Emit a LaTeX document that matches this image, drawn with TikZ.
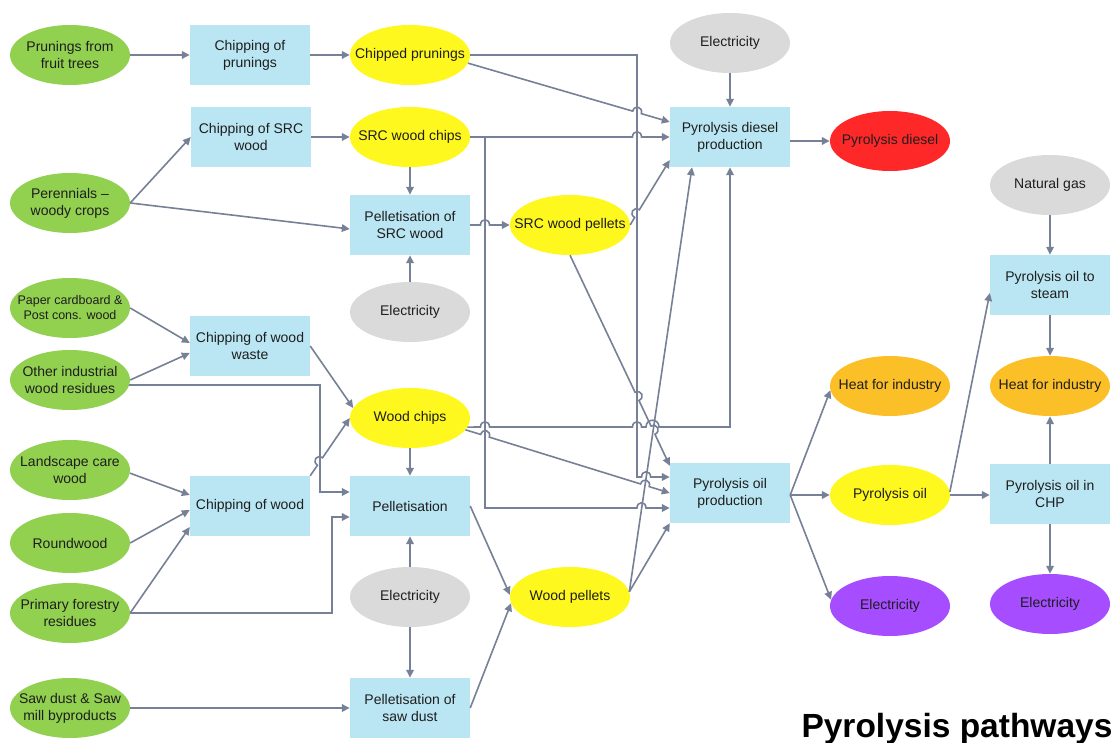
\documentclass[tikz,border=0pt]{standalone}
\usepackage{fontspec}
\setmainfont{Liberation Sans}
\usetikzlibrary{arrows.meta,shapes.geometric}
\definecolor{cgreen}{RGB}{146,208,80}
\definecolor{cblue}{RGB}{186,230,243}
\definecolor{cyellow}{RGB}{255,248,30}
\definecolor{cgray}{RGB}{218,218,218}
\definecolor{cred}{RGB}{255,40,40}
\definecolor{corange}{RGB}{251,192,40}
\definecolor{cpurple}{RGB}{166,77,255}
\definecolor{cline}{RGB}{118,128,150}
\definecolor{ctext}{RGB}{30,30,30}
\newcommand\nodefont{\fontsize{14}{17}\selectfont}
\newcommand\smallnodefont{\fontsize{12.5}{15}\selectfont}
\newcommand\titlefont{\bfseries\fontsize{33.5}{38}\selectfont}
% horizontal hop (rightward) at (#1,#2)
\newcommand\hr[2]{-- (#1-4.5,#2) .. controls (#1-4.5,#2-7) and (#1+4.5,#2-7) .. (#1+4.5,#2)}
% wide horizontal hop, half width #3
\newcommand\hrw[3]{-- (#1-#3,#2) .. controls (#1-#3,#2-9) and (#1+#3,#2-9) .. (#1+#3,#2)}
% diagonal hop at (#1,#2), direction #3 (degrees, y down)
\newcommand\hd[3]{-- ([shift={(#3+180:4.5)}]#1,#2) .. controls +(#3-90:7) and +(#3-90:7) .. ([shift={(#3:4.5)}]#1,#2)}
\tikzset{
  ellbase/.style={ellipse, minimum width=120pt, minimum height=60pt, inner xsep=-30pt, inner ysep=-12pt, align=center, font=\nodefont, text=ctext},
  gsrc/.style={ellbase, fill=cgreen},
  yprod/.style={ellbase, fill=cyellow},
  gutil/.style={ellbase, fill=cgray},
  rfin/.style={ellbase, fill=cred},
  oheat/.style={ellbase, fill=corange},
  pelec/.style={ellbase, fill=cpurple},
  pbox/.style={rectangle, fill=cblue, minimum width=120pt, minimum height=60pt, inner sep=2pt, align=center, font=\nodefont, text=ctext},
  arr/.style={draw=cline, line width=1.6pt, -{Triangle[length=8pt,width=7.5pt]}},
}
\begin{document}
\begin{tikzpicture}[x=1pt, y=-1pt]
\fill[white] (0,0) rectangle (1119,743);
\useasboundingbox (0,0) rectangle (1119,743);

% sources
\node[gsrc] (G1) at (70,55) {Prunings from\\fruit trees};
\node[gsrc] (G2) at (70,203) {Perennials –\\woody crops};
\node[gsrc, font=\smallnodefont] (G3) at (70,308) {Paper cardboard \&\\Post cons. wood};
\node[gsrc] (G4) at (70,380) {Other industrial\\wood residues};
\node[gsrc] (G5) at (70,470) {Landscape care\\wood};
\node[gsrc] (G6) at (70,543) {Roundwood};
\node[gsrc] (G7) at (70,613) {Primary forestry\\residues};
\node[gsrc] (G8) at (70,708) {Saw dust \& Saw\\mill byproducts};

% chipping
\node[pbox] (B1) at (250,55) {Chipping of\\prunings};
\node[pbox] (B2) at (251,137) {Chipping of SRC\\wood};
\node[pbox] (B3) at (250,346) {Chipping of wood\\waste};
\node[pbox] (B4) at (250,506) {Chipping of wood};

% column 3
\node[yprod] (Y1) at (410,55) {Chipped prunings};
\node[yprod] (Y2) at (410,137) {SRC wood chips};
\node[pbox] (B5) at (410,225) {Pelletisation of\\SRC wood};
\node[gutil] (E1) at (410,312) {Electricity};
\node[yprod] (Y3) at (410,418) {Wood chips};
\node[pbox] (B6) at (410,506) {Pelletisation};
\node[gutil] (E2) at (410,597) {Electricity};
\node[pbox] (B7) at (410,708) {Pelletisation of\\saw dust};

% column 4
\node[yprod] (Y4) at (570,225) {SRC wood pellets};
\node[yprod] (Y5) at (570,597) {Wood pellets};

% column 5
\node[gutil] (E3) at (730,43) {Electricity};
\node[pbox] (B8) at (730,137) {Pyrolysis diesel\\production};
\node[pbox] (B9) at (730,493) {Pyrolysis oil\\production};

% column 6
\node[rfin] (R) at (890,141) {Pyrolysis diesel};
\node[oheat] (O1) at (890,386) {Heat for industry};
\node[yprod] (Y6) at (890,495) {Pyrolysis oil};
\node[pelec] (P1) at (890,606) {Electricity};

% column 7
\node[gutil] (E4) at (1050,185) {Natural gas};
\node[pbox] (B10) at (1050,285) {Pyrolysis oil to\\steam};
\node[oheat] (O2) at (1050,386) {Heat for industry};
\node[pbox] (B11) at (1050,494) {Pyrolysis oil in\\CHP};
\node[pelec] (P2) at (1050,604) {Electricity};

\node[anchor=base east, font=\titlefont, text=black] (T) at (1116,737) {Pyrolysis pathways};

% connectors
\draw[arr] (G1.east) -- (B1.west);
\draw[arr] (B1.east) -- (Y1.west);
\draw[arr] (Y1.east) -- (637,55) -- (637,477) \hr{646.1}{477} -- ([yshift=16pt]B9.west);
\draw[arr] (Y1.-8) \hd{637}{112.4}{16.24} -- ([yshift=15pt]B8.west);
\draw[arr] (G2.east) -- (B2.west);
\draw[arr] (G2.east) -- ([yshift=-4pt]B5.west);
\draw[arr] (B2.east) -- (Y2.west);
\draw[arr] (Y2.east) \hr{637}{137} -- (B8.west);
\draw[arr] (Y2.east) -- (485,137) -- (485,508) \hr{641.5}{508} -- ([yshift=-15pt]B9.west);
\draw[arr] (Y2.south) -- (B5.north);
\draw[arr] (E1.north) -- (B5.south);
\draw[arr] (B5.east) \hr{485}{225} -- (Y4.west);
\draw[arr] (Y4.east) \hd{637}{213.6}{-58.39} -- ([yshift=-23pt]B8.west);
\draw[arr] (Y4.south) \hd{637}{396.4}{64.64} \hd{653}{430.2}{64.64} -- ([yshift=-3pt]B9.north west);
\draw[arr] (Y3.-9) \hr{485}{427} \hr{637}{427} \hrw{652.5}{427}{6.5} -| (B8.south);
\draw[arr] (Y3.-12) \hd{485}{435.8}{17.18} \hd{644.9}{485.3}{17.18} -- (B9.west);
\draw[arr] (G3.east) -- ([yshift=3pt]B3.west);
\draw[arr] (G4.east) -- ([yshift=-7pt]B3.west);
\draw[arr] (B3.east) -- (Y3.170);
\draw[arr] (B4.north east) \hd{320}{461.5}{-55.4} -- (Y3.west);
\draw[arr] (G4.-5) -| (320,492) -- ([yshift=14pt]B6.west);
\draw[arr] (Y3.south) -- (B6.north);
\draw[arr] (E2.north) -- (B6.south);
\draw[arr] (E2.south) -- (B7.north);
\draw[arr] (B6.east) -- (Y5.178);
\draw[arr] (B7.east) -- (Y5.186);
\draw[arr] (G5.-3) -- ([yshift=11pt]B4.west);
\draw[arr] (G6.east) -- ([yshift=-4pt]B4.west);
\draw[arr] (G7.east) -- ([yshift=-21pt]B4.west);
\draw[arr] (G7.east) -| (332,517) -- ([yshift=-11pt]B6.west);
\draw[arr] (G8.east) -- (B7.west);
\draw[arr] (Y5.5) -- ([xshift=-38pt]B8.south);
\draw[arr] (Y5.5) -- (B9.south west);
\draw[arr] (E3.south) -- (B8.north);
\draw[arr] ([yshift=-4pt]B8.east) -- (R.west);
\draw[arr] ([yshift=-2pt]B9.east) -- (O1.184);
\draw[arr] ([yshift=-2pt]B9.east) -- (Y6.west);
\draw[arr] ([yshift=-2pt]B9.east) -- (P1.174);
\draw[arr] (Y6.3) -- ([yshift=-8pt]B10.west);
\draw[arr] (Y6.east) -- ([yshift=-1pt]B11.west);
\draw[arr] (E4.south) -- (B10.north);
\draw[arr] (B10.south) -- (O2.north);
\draw[arr] (B11.north) -- (O2.south);
\draw[arr] (B11.south) -- (P2.north);
\end{tikzpicture}
\end{document}
